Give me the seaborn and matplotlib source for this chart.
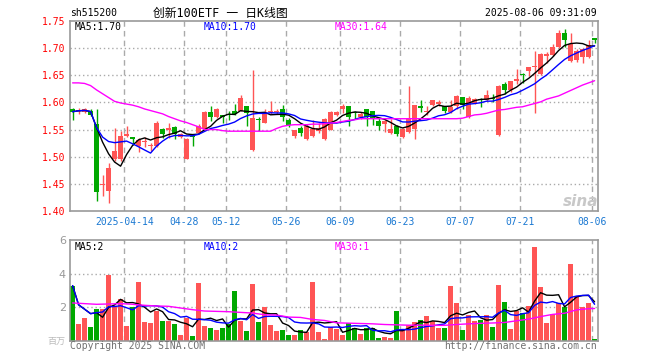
import numpy as np
import pandas as pd
import matplotlib
matplotlib.use("Agg")
import matplotlib.pyplot as plt
import seaborn as sns

# daily K data, 2025-03-31 .. 2025-08-06 (88 trading days)
opens = [1.588, 1.585, 1.582, 1.585, 1.561, 1.448, 1.436, 1.495, 1.495, 1.539,
         1.536, 1.520, 1.527, 1.519, 1.520, 1.551, 1.550, 1.554, 1.536, 1.496,
         1.539, 1.544, 1.551, 1.582, 1.574, 1.577, 1.578, 1.584, 1.585, 1.594,
         1.513, 1.568, 1.563, 1.583, 1.582, 1.588, 1.567, 1.538, 1.552, 1.533,
         1.539, 1.547, 1.533, 1.550, 1.576, 1.588, 1.594, 1.583, 1.573, 1.587,
         1.585, 1.565, 1.560, 1.543, 1.557, 1.537, 1.545, 1.551, 1.594, 1.582,
         1.596, 1.597, 1.594, 1.582, 1.594, 1.610, 1.574, 1.599, 1.607, 1.604,
         1.608, 1.540, 1.634, 1.622, 1.640, 1.652, 1.657, 1.666, 1.653, 1.686,
         1.688, 1.702, 1.728, 1.677, 1.678, 1.683, 1.683, 1.718]
highs = [1.589, 1.589, 1.589, 1.588, 1.587, 1.467, 1.488, 1.552, 1.547, 1.557,
         1.537, 1.534, 1.536, 1.525, 1.566, 1.552, 1.563, 1.556, 1.544, 1.534,
         1.539, 1.560, 1.584, 1.593, 1.590, 1.577, 1.585, 1.597, 1.614, 1.594,
         1.660, 1.574, 1.588, 1.602, 1.587, 1.596, 1.571, 1.550, 1.557, 1.561,
         1.568, 1.562, 1.571, 1.584, 1.585, 1.597, 1.594, 1.584, 1.582, 1.587,
         1.585, 1.571, 1.568, 1.570, 1.559, 1.553, 1.631, 1.596, 1.605, 1.593,
         1.605, 1.605, 1.594, 1.604, 1.614, 1.610, 1.612, 1.609, 1.609, 1.622,
         1.615, 1.632, 1.638, 1.640, 1.661, 1.655, 1.666, 1.694, 1.691, 1.692,
         1.708, 1.734, 1.735, 1.728, 1.698, 1.700, 1.715, 1.718]
lows = [1.567, 1.579, 1.580, 1.575, 1.418, 1.427, 1.414, 1.493, 1.493, 1.536,
        1.522, 1.508, 1.518, 1.510, 1.518, 1.534, 1.534, 1.533, 1.534, 1.495,
        1.520, 1.543, 1.550, 1.565, 1.572, 1.563, 1.567, 1.577, 1.584, 1.556,
        1.510, 1.548, 1.563, 1.579, 1.578, 1.565, 1.555, 1.535, 1.538, 1.531,
        1.537, 1.544, 1.531, 1.549, 1.575, 1.581, 1.557, 1.570, 1.570, 1.556,
        1.559, 1.550, 1.545, 1.541, 1.538, 1.535, 1.544, 1.533, 1.582, 1.577,
        1.594, 1.594, 1.581, 1.581, 1.587, 1.587, 1.572, 1.598, 1.592, 1.603,
        1.601, 1.538, 1.615, 1.620, 1.634, 1.635, 1.649, 1.581, 1.651, 1.672,
        1.686, 1.700, 1.703, 1.675, 1.675, 1.673, 1.681, 1.710]
closes = [1.583, 1.586, 1.587, 1.577, 1.435, 1.449, 1.479, 1.511, 1.539, 1.542,
          1.533, 1.531, 1.528, 1.520, 1.563, 1.541, 1.552, 1.541, 1.542, 1.533,
          1.536, 1.556, 1.582, 1.573, 1.588, 1.573, 1.576, 1.579, 1.608, 1.581,
          1.571, 1.567, 1.582, 1.585, 1.584, 1.573, 1.559, 1.549, 1.544, 1.557,
          1.551, 1.552, 1.570, 1.582, 1.582, 1.594, 1.573, 1.581, 1.579, 1.573,
          1.570, 1.557, 1.565, 1.551, 1.541, 1.551, 1.571, 1.596, 1.589, 1.585,
          1.605, 1.600, 1.584, 1.592, 1.612, 1.596, 1.609, 1.607, 1.604, 1.614,
          1.606, 1.630, 1.622, 1.640, 1.643, 1.650, 1.666, 1.668, 1.690, 1.689,
          1.703, 1.728, 1.715, 1.707, 1.694, 1.698, 1.706, 1.715]
volumes = [3.29, 1.01, 1.37, 0.83, 1.92, 1.92, 3.94, 2.10, 2.49, 0.89,
           2.00, 3.52, 1.13, 1.07, 1.80, 1.19, 1.19, 1.01, 0.38, 1.35,
           0.30, 3.45, 0.91, 0.77, 0.65, 0.77, 1.01, 2.99, 1.19, 0.59,
           3.41, 1.13, 2.02, 0.93, 0.61, 0.65, 0.38, 0.38, 0.65, 0.51,
           3.52, 0.53, 0.14, 0.81, 0.73, 0.38, 1.05, 0.77, 0.42, 0.77,
           0.77, 0.18, 0.24, 0.18, 1.78, 0.67, 0.93, 1.13, 1.25, 1.49,
           1.17, 0.77, 0.79, 3.27, 2.26, 0.65, 1.52, 1.21, 1.27, 1.54,
           0.83, 3.33, 2.34, 0.73, 1.80, 1.66, 2.06, 5.60, 3.23, 1.07,
           1.60, 2.24, 2.02, 4.57, 2.65, 2.02, 2.26, 0.14]

price_ma30 = [1.636, 1.636, 1.635, 1.631, 1.623, 1.616, 1.609, 1.602, 1.599, 1.597,
              1.595, 1.592, 1.588, 1.585, 1.582, 1.579, 1.574, 1.570, 1.566, 1.563,
              1.559, 1.555, 1.550, 1.550, 1.550, 1.548, 1.547, 1.547, 1.547, 1.547,
              1.547, 1.547, 1.547, 1.547, 1.552, 1.556, 1.558, 1.559, 1.559, 1.559,
              1.560, 1.560, 1.561, 1.562, 1.563, 1.565, 1.567, 1.568, 1.570, 1.570,
              1.570, 1.570, 1.570, 1.570, 1.570, 1.570, 1.570, 1.570, 1.570, 1.570,
              1.570, 1.570, 1.570, 1.570, 1.570, 1.571, 1.574, 1.577, 1.578, 1.580,
              1.583, 1.586, 1.587, 1.589, 1.591, 1.592, 1.595, 1.598, 1.601, 1.606,
              1.609, 1.612, 1.617, 1.622, 1.627, 1.632, 1.636, 1.640]
vol_ma30_x = [0, 2, 4, 6, 8, 10, 12, 14, 16, 18, 20, 22, 24, 26, 28, 30, 32, 34,
              36, 38, 40, 42, 44, 46, 48, 50, 52, 54, 56, 58, 60, 62, 64, 66, 68,
              70, 72, 74, 76, 78, 80, 82, 84, 86, 87]
vol_ma30 = [2.26, 2.22, 2.18, 2.20, 2.22, 2.18, 2.12, 2.08, 2.06, 1.96, 1.86, 1.78,
            1.76, 1.74, 1.70, 1.66, 1.56, 1.54, 1.42, 1.40, 1.28, 1.22, 1.08, 1.06,
            1.04, 1.02, 0.98, 0.96, 0.94, 0.94, 0.93, 0.93, 0.98, 1.02, 1.05, 1.07,
            1.10, 1.20, 1.30, 1.45, 1.58, 1.65, 1.85, 1.92, 1.93]

tick_idx = [9, 19, 26, 36, 45, 55, 65, 75, 87]
tick_labels = ["2025-04-14", "04-28", "05-12", "05-26", "06-09",
               "06-23", "07-07", "07-21", "08-06"]
price_ticks = [1.40, 1.45, 1.50, 1.55, 1.60, 1.65, 1.70, 1.75]

RED = "#ff5555"
GREEN = "#00a800"
GRID = "#aaaaaa"
BLUE_TXT = "#1a78d2"

sns.set_theme(style="white")
plt.rcParams["font.family"] = ["DejaVu Sans Mono", "Noto Sans CJK SC"]

df = pd.DataFrame({"open": opens, "high": highs, "low": lows,
                   "close": closes, "vol": volumes})
df["x"] = np.arange(len(df))
df["dir"] = np.where(df["close"] >= df["open"], "up", "down")
df["ma5"] = df["close"].rolling(5, min_periods=1).mean()
df["ma10"] = df["close"].rolling(10, min_periods=1).mean()
df["ma30"] = price_ma30
df["vma5"] = df["vol"].rolling(5, min_periods=1).mean()
df["vma10"] = df["vol"].rolling(10, min_periods=1).mean()
colors = np.where(df["dir"] == "up", RED, GREEN)

W, H = 660, 360
fig = plt.figure(figsize=(W / 100, H / 100), dpi=100)


def box(l, t, r, b):
    return [l / W, 1 - b / H, (r - l) / W, (b - t) / H]


ax = fig.add_axes(box(70, 21, 598, 211))
axv = fig.add_axes(box(70, 240, 598, 341))

# --------------------------------------------------
# PRICE PANEL
# --------------------------------------------------
for lv in price_ticks[1:-1]:
    ax.axhline(lv, color=GRID, ls=(0, (1, 2)), lw=1, zorder=0)
for t in tick_idx:
    ax.axvline(t - 0.38, color=GRID, ls=(0, (4, 3)), lw=1, zorder=0)
    axv.axvline(t - 0.38, color=GRID, ls=(0, (4, 3)), lw=1, zorder=0)

ax.vlines(df["x"], df["low"], df["high"], colors=colors, lw=1, zorder=2)
body_lo = df[["open", "close"]].min(axis=1)
body_h = np.maximum((df["close"] - df["open"]).abs(), 0.0019)
ax.bar(df["x"], body_h, bottom=body_lo, width=0.78, color=colors, lw=0, zorder=3)

sns.lineplot(data=df, x="x", y="ma5", color="black", lw=1, ax=ax, zorder=4)
sns.lineplot(data=df, x="x", y="ma10", color="#0000ff", lw=1, ax=ax, zorder=4)
sns.lineplot(data=df, x="x", y="ma30", color="#ff00ff", lw=1, ax=ax, zorder=4)

ax.set_xlim(-0.43, 87.57)
ax.set_ylim(1.40, 1.75)
ax.set_yticks(price_ticks)
ax.set_yticklabels([f"{v:.2f}" for v in price_ticks], color="red", fontsize=7)
ax.set_xticks([t - 0.38 for t in tick_idx])
ax.set_xticklabels(tick_labels, color=BLUE_TXT, fontsize=7)
ax.tick_params(length=0, pad=3)
ax.tick_params(axis="x", pad=4)
ax.set_xlabel("")
ax.set_ylabel("")

# --------------------------------------------------
# VOLUME PANEL
# --------------------------------------------------
for lv in [2, 4]:
    axv.axhline(lv, color=GRID, ls=(0, (1, 2)), lw=1, zorder=0)
sns.barplot(data=df, x="x", y="vol", hue="dir", palette={"up": RED, "down": GREEN},
            native_scale=True, dodge=False, width=0.78, errorbar=None,
            saturation=1, linewidth=0, legend=False, ax=axv, zorder=2)
sns.lineplot(data=df, x="x", y="vma5", color="black", lw=1, ax=axv, zorder=4)
sns.lineplot(data=df, x="x", y="vma10", color="#0000ff", lw=1, ax=axv, zorder=4)
sns.lineplot(x=vol_ma30_x, y=vol_ma30, color="#ff00ff", lw=1, ax=axv, zorder=4)
axv.set_xlim(-0.43, 87.57)
axv.set_ylim(0, 6)
axv.set_yticks([2, 4, 6])
axv.set_yticklabels(["2", "4", "6"], color="#999999", fontsize=8,
                    family="DejaVu Sans")
axv.set_xticks([])
axv.tick_params(length=0, pad=3)
axv.set_xlabel("")
axv.set_ylabel("")

for a in (ax, axv):
    for s in a.spines.values():
        s.set_color("#999999")
        s.set_linewidth(1.2)


def px(x, y, s, **kw):
    fig.text(x / W, 1 - y / H, s, va="center", **kw)


px(70, 13, "sh515200", fontsize=7, color="black")
px(220, 13, "创新100ETF 一 日K线图", fontsize=8.5, color="black", ha="center")
px(597, 13, "2025-08-06 09:31:09", fontsize=7, color="black", ha="right")
px(75, 27, "MA5:1.70", fontsize=7, color="black")
px(204, 27, "MA10:1.70", fontsize=7, color="#0000ff")
px(335, 27, "MA30:1.64", fontsize=7, color="#ff00ff")
px(75, 247, "MA5:2", fontsize=7, color="black")
px(204, 247, "MA10:2", fontsize=7, color="#0000ff")
px(335, 247, "MA30:1", fontsize=7, color="#ff00ff")
px(70, 346, "Copyright 2025 SINA.COM", fontsize=7, color="#707070")
px(597, 346, "http://finance.sina.com.cn", fontsize=7, color="#707070", ha="right")
px(56, 341, "百万", fontsize=6.5, color="#bbbbbb", ha="center")
px(581, 202, "sina", fontsize=11, color="#c8c8c8", ha="center",
   family="DejaVu Sans", style="italic", weight="bold")

fig.savefig("out.png", dpi=100)
